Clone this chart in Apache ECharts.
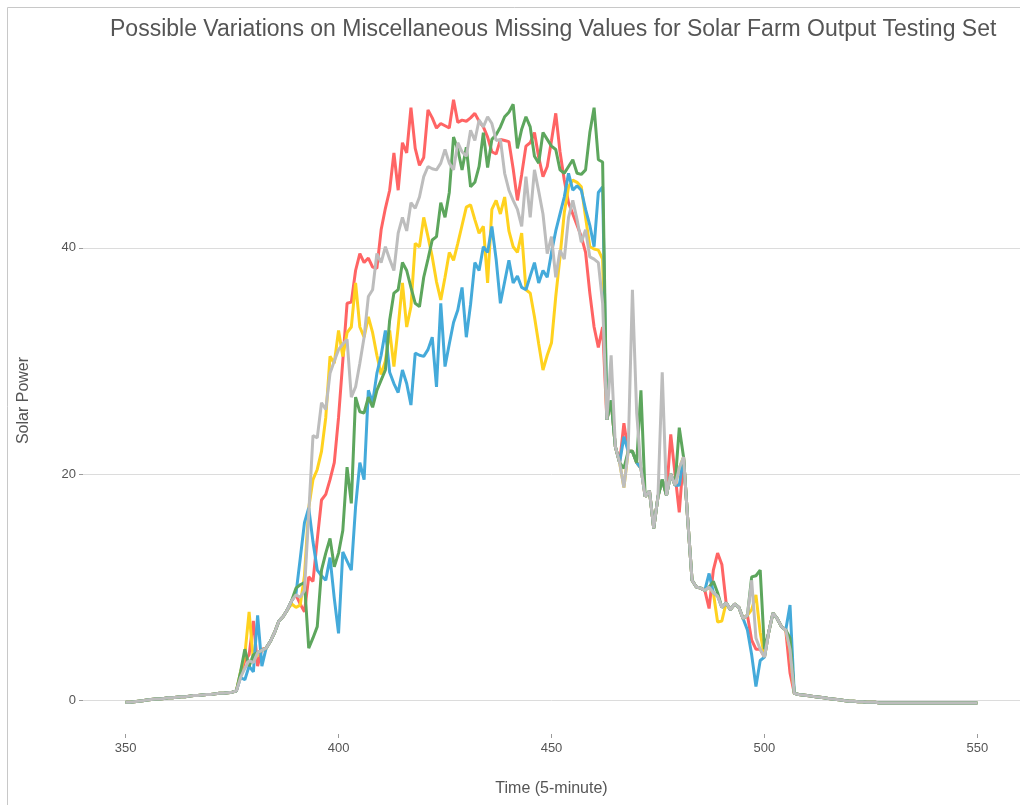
<!DOCTYPE html>
<html>
<head>
<meta charset="utf-8">
<title>Solar Farm Output</title>
<script src="https://cdn.jsdelivr.net/npm/echarts@6/dist/echarts.min.js"></script>
<style>
  html, body { margin: 0; padding: 0; background: #ffffff; }
  #chart { width: 1020px; height: 805px; }
</style>
</head>
<body>
<div id="chart"></div>
<script>
// Time index of the first sample (5-minute steps)
const startTime = 350;

// Night-time readings before sunrise (350-376), identical in every variant
const headShared = [
  -0.2, -0.2, -0.15, -0.1, -0.05, 0.0, 0.05, 0.1, 0.1, 0.15,
  0.2, 0.2, 0.25, 0.3, 0.3, 0.35, 0.4, 0.4, 0.45, 0.5,
  0.5, 0.55, 0.6, 0.6, 0.65, 0.7, 0.8
];

// Evening readings after sunset (508-550), identical in every variant
const tailShared = [
  0.5, 0.45, 0.4, 0.35, 0.3, 0.25, 0.2, 0.15, 0.1, 0.05,
  0.0, -0.05, -0.1, -0.1, -0.15, -0.15, -0.2, -0.2, -0.2, -0.25,
  -0.25, -0.25, -0.25, -0.25, -0.25, -0.25, -0.25, -0.25, -0.25, -0.25,
  -0.25, -0.25, -0.25, -0.25, -0.25, -0.25, -0.25, -0.25, -0.25, -0.25,
  -0.25, -0.25, -0.25
];

// Daytime readings (377-507) for each variant
const redDay = [
  2.2, 3.5, 4.0, 7.0, 3.0, 4.5, 4.6, 5.2, 6.0, 7.0,
  7.4, 8.0, 8.8, 9.3, 8.5, 7.8, 10.9, 10.5, 14.2, 17.7,
  18.2, 19.5, 21.0, 25.0, 30.0, 35.1, 35.2, 38.0, 39.5, 38.7,
  39.1, 38.3, 38.2, 41.6, 43.5, 45.1, 48.4, 45.1, 49.3, 48.4,
  52.4, 48.8, 47.3, 48.0, 52.2, 51.5, 50.6, 51.0, 50.8, 50.6,
  53.1, 51.1, 51.3, 51.2, 51.5, 51.9, 51.2, 50.7, 49.8, 48.5,
  48.3, 49.6, 49.5, 49.4, 47.0, 44.2, 46.5, 49.0, 49.3, 50.2,
  48.0, 46.3, 47.2, 49.5, 51.9, 48.5, 46.0, 44.0, 43.0, 42.0,
  41.0, 39.6, 36.0, 33.0, 31.2, 33.0, 24.8, 26.5, 22.4, 21.0,
  24.5, 22.0, 22.0, 21.0, 20.5, 18.0, 18.5, 15.2, 18.0, 19.5,
  18.1, 23.5, 20.0, 16.6, 21.5, 15.9, 10.6, 10.0, 9.9, 9.7,
  8.1, 11.5, 13.0, 12.0, 8.6, 8.0, 8.5, 8.2, 7.2, 7.5,
  5.3, 4.5, 4.5, 3.8, 6.0, 7.7, 7.2, 6.5, 6.2, 2.4,
  0.6
];

const yellowDay = [
  2.5, 4.0, 7.8, 3.5, 4.0, 4.4, 4.6, 5.2, 6.0, 7.0,
  7.4, 8.0, 8.5, 8.2, 8.4, 11.0, 17.0, 19.5, 20.4, 22.0,
  25.0, 30.4, 29.8, 32.7, 30.4, 32.5, 33.0, 36.9, 33.0, 32.1,
  33.9, 32.5, 30.5, 28.8, 30.0, 32.7, 29.5, 33.0, 36.9, 33.0,
  34.8, 40.4, 40.1, 42.7, 41.0, 39.2, 37.0, 35.4, 37.4, 39.6,
  38.9, 40.4, 42.0, 43.6, 43.8, 42.5, 41.3, 41.9, 36.9, 43.4,
  44.2, 43.0, 44.5, 41.5, 40.1, 39.6, 41.3, 36.3, 36.0, 33.9,
  31.5, 29.2, 30.5, 31.6, 35.7, 39.2, 43.1, 45.4, 46.0, 45.8,
  45.4, 42.7, 40.1, 39.9, 39.8, 39.0, 24.8, 26.5, 22.4, 21.0,
  18.8, 22.0, 22.0, 21.0, 20.5, 18.0, 18.5, 15.2, 18.0, 19.5,
  18.1, 20.0, 19.0, 20.5, 21.5, 15.9, 10.6, 10.0, 9.9, 9.7,
  10.0, 9.5, 6.9, 7.0, 8.6, 8.0, 8.5, 8.2, 7.2, 7.5,
  8.0, 9.3, 6.0, 3.8, 6.0, 7.7, 7.2, 6.5, 6.2, 4.5,
  0.6
];

const blueDay = [
  2.0, 1.8, 3.0, 2.5, 7.5, 3.0, 4.6, 5.2, 6.0, 7.0,
  7.4, 8.0, 8.8, 9.4, 12.5, 15.7, 17.0, 14.0, 11.5, 11.0,
  10.6, 12.6, 9.0, 5.9, 13.1, 12.3, 11.5, 17.1, 21.0, 19.5,
  27.4, 26.3, 28.9, 30.5, 32.7, 29.0, 28.0, 27.2, 29.2, 28.0,
  26.1, 30.7, 30.5, 30.4, 31.0, 32.1, 27.7, 35.1, 29.5, 31.5,
  33.4, 34.5, 36.5, 32.1, 35.0, 38.7, 38.0, 40.1, 39.6, 41.9,
  39.0, 35.1, 37.0, 38.9, 36.9, 37.5, 36.5, 36.3, 37.5, 38.7,
  36.9, 38.0, 37.4, 39.6, 41.5, 43.0, 44.5, 46.6, 45.1, 45.5,
  45.1, 43.4, 42.0, 40.1, 44.9, 45.4, 24.8, 26.5, 22.4, 21.0,
  23.3, 22.0, 22.0, 21.0, 20.5, 18.0, 18.5, 15.2, 18.0, 19.5,
  18.1, 20.0, 19.0, 19.0, 21.5, 15.9, 10.6, 10.0, 9.9, 9.7,
  11.2, 9.5, 9.2, 8.2, 8.6, 8.0, 8.5, 8.2, 7.2, 6.2,
  4.0, 1.2, 3.5, 3.8, 6.0, 7.7, 7.2, 6.5, 6.2, 8.4,
  0.6
];

const greenDay = [
  2.5, 4.5, 3.0, 4.0, 4.2, 4.4, 4.6, 5.2, 6.0, 7.0,
  7.4, 8.0, 8.8, 9.9, 10.2, 10.4, 4.6, 5.5, 6.5, 11.5,
  13.0, 14.3, 11.8, 13.0, 15.0, 20.6, 17.4, 26.8, 25.5, 25.4,
  26.8, 25.9, 27.4, 28.3, 29.2, 33.6, 36.0, 36.3, 38.7, 38.0,
  36.5, 35.1, 34.8, 37.4, 39.0, 40.7, 41.0, 44.0, 42.7, 44.9,
  49.8, 48.7, 46.9, 48.9, 45.4, 45.8, 47.2, 50.2, 47.1, 49.6,
  50.0, 50.7, 51.6, 52.0, 52.7, 48.8, 50.5, 51.6, 50.7, 48.1,
  47.5, 50.2, 49.6, 49.0, 48.7, 46.9, 46.6, 47.2, 47.8, 46.6,
  46.5, 46.9, 50.2, 52.4, 47.8, 47.6, 24.8, 26.5, 22.4, 21.0,
  20.5, 22.0, 22.0, 21.0, 27.4, 18.0, 18.5, 15.2, 18.0, 19.5,
  18.1, 20.0, 19.0, 24.1, 21.5, 15.9, 10.6, 10.0, 9.9, 9.7,
  10.0, 10.5, 9.5, 8.2, 8.6, 8.0, 8.5, 8.2, 7.2, 7.5,
  10.9, 11.0, 11.5, 4.5, 6.0, 7.7, 7.2, 6.5, 6.2, 5.5,
  0.6
];

const grayDay = [
  2.0, 2.8, 3.5, 3.3, 4.2, 4.4, 4.6, 5.2, 6.0, 7.0,
  7.4, 8.0, 8.8, 9.3, 9.1, 9.7, 16.5, 23.4, 23.2, 26.3,
  25.7, 28.9, 30.0, 31.0, 31.5, 31.9, 26.8, 27.7, 29.8, 32.1,
  35.7, 36.3, 39.5, 38.7, 40.1, 39.0, 38.0, 41.3, 42.7, 41.5,
  44.0, 43.5, 44.5, 46.3, 47.2, 47.0, 46.9, 47.5, 48.7, 47.5,
  46.9, 49.3, 48.5, 48.1, 50.4, 49.5, 51.3, 50.7, 51.6, 51.0,
  49.5, 49.6, 46.6, 45.1, 44.2, 43.4, 41.9, 46.3, 42.7, 46.9,
  45.0, 43.0, 39.5, 41.0, 37.4, 39.8, 39.0, 42.7, 44.2, 42.5,
  40.5, 41.6, 39.2, 39.0, 38.7, 35.1, 24.8, 30.5, 22.4, 21.0,
  18.8, 22.0, 36.3, 25.4, 20.5, 18.0, 18.5, 15.2, 18.0, 29.0,
  18.1, 20.0, 19.0, 20.5, 21.5, 15.9, 10.6, 10.0, 9.9, 9.7,
  10.0, 9.5, 9.2, 8.2, 8.6, 8.0, 8.5, 8.2, 7.2, 7.5,
  10.6, 5.5, 4.5, 3.8, 6.0, 7.7, 7.2, 6.5, 6.2, 4.5,
  0.6
];

// Axis ticks
const xTicks = [350, 400, 450, 500, 550];
const yTicks = [0, 20, 40];

// Colours, in drawing order (last is on top)
const variantColors = ['#FF6464', '#FFD21F', '#44AADA', '#5DA65D', '#BDBDBD'];
const variantDays = [redDay, yellowDay, blueDay, greenDay, grayDay];
const variantNames = ['Variant A', 'Variant B', 'Variant C', 'Variant D', 'Variant E'];

function toPoints(day) {
  const values = headShared.concat(day, tailShared);
  return values.map((v, i) => [startTime + i, v]);
}

const textColor = '#555555';
const fontFamily = '"Liberation Sans", Arial, Helvetica, sans-serif';

const chart = echarts.init(document.getElementById('chart'), null, { renderer: 'canvas' });

chart.setOption({
  animation: false,
  backgroundColor: '#ffffff',
  textStyle: { fontFamily: fontFamily },
  title: {
    text: 'Possible Variations on Miscellaneous Missing Values for Solar Farm Output Testing Set',
    left: 105,
    top: 13,
    textStyle: { color: textColor, fontSize: 23, fontWeight: 'normal', fontFamily: fontFamily }
  },
  graphic: [{
    type: 'rect',
    silent: true,
    shape: { x: 7.5, y: 7.5, width: 1030, height: 820 },
    style: { fill: 'none', stroke: '#c8c8c8', lineWidth: 1 }
  }],
  grid: { left: 83, top: 67, width: 940, height: 667, containLabel: false },
  xAxis: {
    type: 'value',
    min: 340,
    max: 560,
    name: 'Time (5-minute)',
    nameLocation: 'middle',
    nameGap: 47,
    nameTextStyle: { color: textColor, fontSize: 16, fontFamily: fontFamily },
    axisLine: { show: false, onZero: false },
    axisTick: { show: true, length: 4, customValues: xTicks, lineStyle: { color: '#9a9a9a' } },
    axisLabel: { customValues: xTicks, color: textColor, fontSize: 13, margin: 8 },
    splitLine: { show: false }
  },
  yAxis: {
    type: 'value',
    min: -3,
    max: 56,
    name: 'Solar Power',
    nameLocation: 'middle',
    nameRotate: 90,
    nameGap: 51,
    nameTextStyle: { color: textColor, fontSize: 16, fontFamily: fontFamily },
    axisLine: { show: false, onZero: false },
    axisTick: { show: true, length: 4, customValues: yTicks, lineStyle: { color: '#9a9a9a' } },
    axisLabel: { customValues: yTicks, color: textColor, fontSize: 13, margin: 7 },
    splitLine: { show: true, lineStyle: { color: '#dcdcdc', width: 1 } }
  },
  series: variantDays.map((day, k) => ({
    name: variantNames[k],
    type: 'line',
    data: toPoints(day),
    showSymbol: false,
    symbol: 'none',
    lineStyle: { color: variantColors[k], width: 3 },
    itemStyle: { color: variantColors[k] },
    z: 2 + k
  }))
});
</script>
</body>
</html>
